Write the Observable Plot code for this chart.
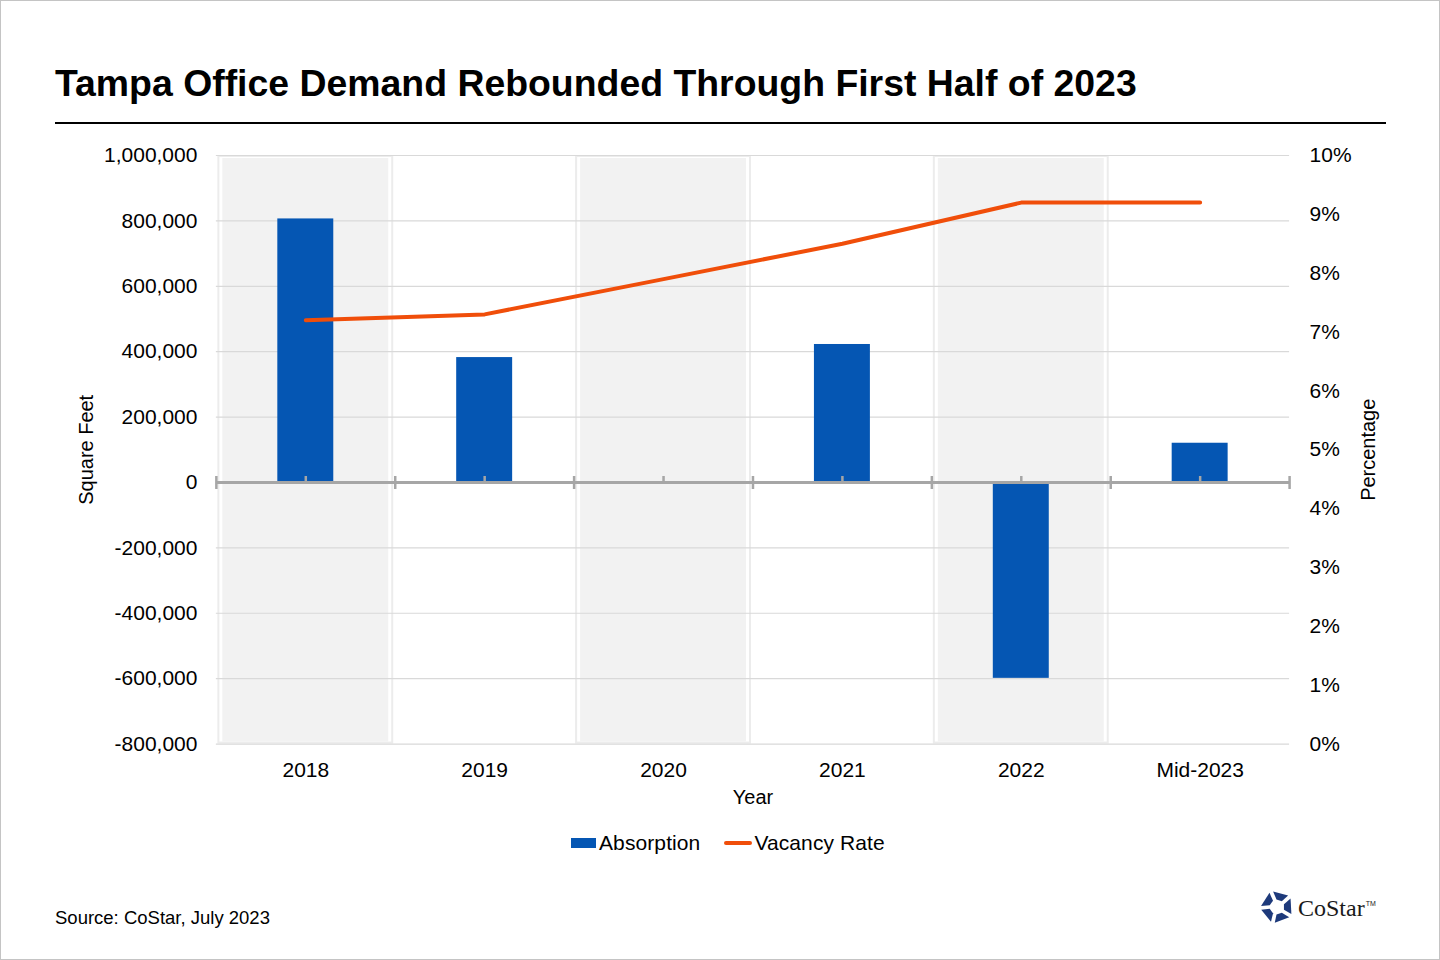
<!DOCTYPE html>
<html>
<head>
<meta charset="utf-8">
<script src="https://cdn.jsdelivr.net/npm/d3@7"></script>
<script src="https://cdn.jsdelivr.net/npm/@observablehq/plot@0.6"></script>
<style>
  html, body { margin: 0; padding: 0; background: #fff; }
  #page { position: relative; width: 1440px; height: 960px; box-sizing: border-box; border: 1px solid #c4c4c4; overflow: hidden; font-family: "Liberation Sans", Arial, sans-serif; color: #000; }
  #title { position: absolute; left: 54px; top: 60px; font-size: 37.4px; font-weight: bold; line-height: 44px; white-space: nowrap; }
  #rule { position: absolute; left: 54px; top: 121px; width: 1331px; height: 2px; background: #000; }
  .layer { position: absolute; left: -1px; top: 139px; }
  #legend { position: absolute; left: 570px; top: 829px; display: flex; align-items: center; font-size: 21px; height: 26px; }
  #legend .sw { width: 25px; height: 10px; margin-right: 3px; }
  #legend .ln { width: 28px; height: 4px; border-radius: 2px; margin-right: 2px; margin-left: 24px; }
  #legend span { letter-spacing: 0.1px; }
  #source { position: absolute; left: 54px; top: 906px; font-size: 18.5px; line-height: 22px; }
  #logo { position: absolute; left: 1259px; top: 889px; }
  #logotext { position: absolute; left: 1297px; top: 889px; font-family: "Liberation Serif", "Times New Roman", serif; font-size: 24px; line-height: 28px; color: #1a1a1a; }
  #logotext sup { font-family: "Liberation Sans", Arial, sans-serif; font-size: 7px; vertical-align: 10px; margin-left: 1px; }
</style>
</head>
<body>
<div id="page">
  <div id="title">Tampa Office Demand Rebounded Through First Half of 2023</div>
  <div id="rule"></div>
  <div id="chart" class="layer"></div>
  <div id="overlay" class="layer"></div>
  <div id="legend"></div>
  <div id="source">Source: CoStar, July 2023</div>
  <svg id="logo" width="36" height="36" viewBox="0 0 36 36"></svg>
  <div id="logotext">CoStar<sup>TM</sup></div>
</div>
<script>
// ---- data ----
const categories = ["2018", "2019", "2020", "2021", "2022", "Mid-2023"];
const absorption = [806000, 382000, 0, 422000, -599000, 120000];
const vacancyRate = [7.2, 7.3, 7.9, 8.5, 9.2, 9.2];
const sqftTicks = [-800000, -600000, -400000, -200000, 0, 200000, 400000, 600000, 800000, 1000000];
const pctTicks = [0, 1, 2, 3, 4, 5, 6, 7, 8, 9, 10];
const shadedCategories = ["2018", "2020", "2022"];
const seriesNames = ["Absorption", "Vacancy Rate"];

const barColor = "#0556b3";
const lineColor = "#f04e0a";
const axisGray = "#a6a6a6";
const gridGray = "#d9d9d9";

const rows = categories.map((c, i) => ({cat: c, abs: absorption[i], vac: vacancyRate[i]}));

// ---- layout ----
const W = 1440, H = 680, ML = 216, MR = 150, MT = 15, MB = 76;
const step = (W - ML - MR) / categories.length;
const font = {fontFamily: "'Liberation Sans', Arial, sans-serif", fontSize: "21px", color: "#000", background: "transparent", overflow: "visible"};

const fmtSq = d => (d < 0 ? "-" : "") + d3.format(",")(Math.abs(d));

const xScale = {type: "band", domain: categories, padding: 0, align: 0.5};

const main = Plot.plot({
  width: W, height: H, marginLeft: ML, marginRight: MR, marginTop: MT, marginBottom: MB,
  style: font,
  x: xScale,
  y: {domain: [-800000, 1000000]},
  marks: [
    // alternating column shading
    Plot.barY(shadedCategories, {x: d => d, y1: -800000, y2: 1000000, fill: "none", stroke: "#ececec", strokeWidth: 2, insetLeft: (step - 174) / 2, insetRight: (step - 174) / 2, insetTop: 1, insetBottom: 1}),
    Plot.barY(shadedCategories, {x: d => d, y1: -800000, y2: 1000000, fill: "#f2f2f2", insetLeft: (step - 166) / 2, insetRight: (step - 166) / 2, insetTop: 3, insetBottom: 2}),
    // gridlines
    Plot.ruleY(sqftTicks.filter(d => d !== 0), {stroke: gridGray, strokeWidth: 1.2}),
    // bars
    Plot.barY(rows, {x: "cat", y: "abs", fill: barColor, insetLeft: (step - 56) / 2, insetRight: (step - 56) / 2}),
    // zero axis line and ticks
    Plot.ruleY([0], {stroke: axisGray, strokeWidth: 3}),
    Plot.ruleX(categories, {x: d => d, y1: 0, y2: 0, insetTop: -6, stroke: axisGray, strokeWidth: 2.5}),
    Plot.ruleX(categories, {x: d => d, y1: 0, y2: 0, insetTop: -6, insetBottom: -7, dx: -step / 2, stroke: axisGray, strokeWidth: 2.5}),
    Plot.ruleX(categories.slice(-1), {x: d => d, y1: 0, y2: 0, insetTop: -6, insetBottom: -7, dx: step / 2, stroke: axisGray, strokeWidth: 2.5}),
    // axes
    Plot.axisY({ticks: sqftTicks, tickSize: 0, tickPadding: 19, tickFormat: fmtSq, label: null, fill: "#000"}),
    Plot.axisX({tickSize: 0, tickPadding: 18, label: null, fill: "#000"}),
    Plot.text(["Year"], {text: d => d, frameAnchor: "bottom", dy: 54, lineAnchor: "middle", textAnchor: "middle", fill: "#000", fontSize: 20}),
    Plot.text(["Square Feet"], {text: d => d, frameAnchor: "left", dx: -130, rotate: -90, lineAnchor: "middle", textAnchor: "middle", fill: "#000", fontSize: 20})
  ]
});
document.getElementById("chart").appendChild(main);

const overlay = Plot.plot({
  width: W, height: H, marginLeft: ML, marginRight: MR, marginTop: MT, marginBottom: MB,
  style: font,
  x: {...xScale, axis: null},
  y: {domain: [0, 10], axis: null},
  marks: [
    Plot.line(rows, {x: "cat", y: "vac", stroke: lineColor, strokeWidth: 4, strokeLinecap: "round", strokeLinejoin: "round"}),
    Plot.axisY({anchor: "right", ticks: pctTicks, tickSize: 0, tickPadding: 20, tickFormat: d => d + "%", label: null, fill: "#000"}),
    Plot.text(["Percentage"], {text: d => d, frameAnchor: "right", dx: 79, rotate: -90, lineAnchor: "middle", textAnchor: "middle", fill: "#000", fontSize: 20})
  ]
});
document.getElementById("overlay").appendChild(overlay);

// ---- legend ----
const legend = document.getElementById("legend");
legend.innerHTML =
  `<div class="sw" style="background:${barColor}"></div><span>${seriesNames[0]}</span>` +
  `<div class="ln" style="background:${lineColor}"></div><span>${seriesNames[1]}</span>`;

// ---- logo mark (decorative) ----
const logo = d3.select("#logo");
const cx = 17, cy = 17, R = 16, r = 7.5;
const pt = (rad, deg) => [cx + rad * Math.cos(deg * Math.PI / 180), cy + rad * Math.sin(deg * Math.PI / 180)];
for (let k = 0; k < 5; k++) {
  const a = -90 + 72 * k;
  const pts = [pt(R, a - 14), pt(R, a + 44), pt(r, a + 40), pt(r, a - 4)];
  logo.append("polygon").attr("points", pts.map(p => p.join(",")).join(" ")).attr("fill", "#1e3a7b");
}
</script>
</body>
</html>
